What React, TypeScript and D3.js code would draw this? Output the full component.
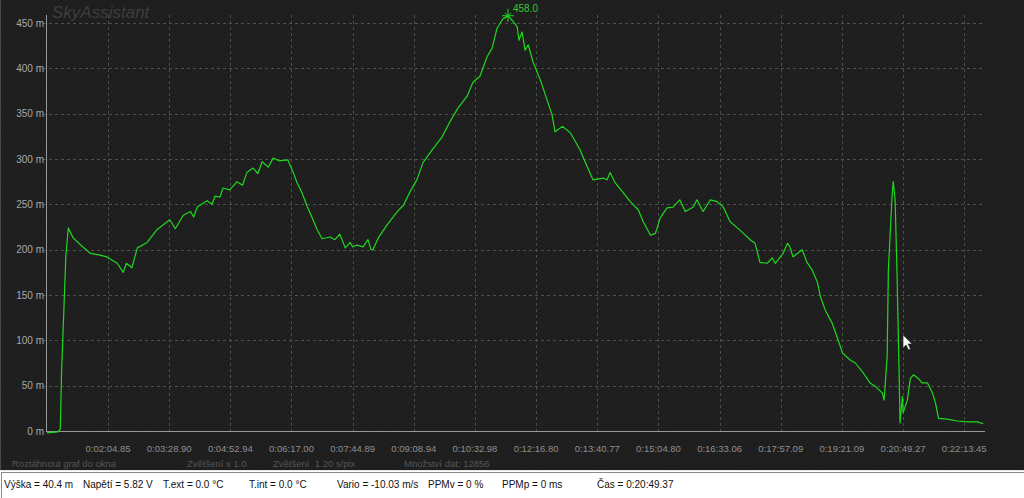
import * as d3 from "d3";

// x is measured in tick steps along the recording (tick k sits at x = k)
const tickLabels = [
  "0:02:04.85", "0:03:28.90", "0:04:52.94", "0:06:17.00", "0:07:44.89",
  "0:09:08.94", "0:10:32.98", "0:12:16.80", "0:13:40.77", "0:15:04.80",
  "0:16:33.06", "0:17:57.09", "0:19:21.09", "0:20:49.27", "0:22:13.45",
];
const altTicks = [0, 50, 100, 150, 200, 250, 300, 350, 400, 450];

const flightX = [
  0.0, 0.18, 0.22, 0.24, 0.28, 0.31, 0.35, 0.43, 0.59, 0.71, 0.87, 0.98, 1.15, 1.25, 1.3, 1.39,
  1.48, 1.64, 1.8, 2.01, 2.1, 2.23, 2.35, 2.4, 2.46, 2.62, 2.7, 2.75, 2.83, 2.88, 2.99, 3.11, 3.2,
  3.27, 3.37, 3.45, 3.52, 3.62, 3.7, 3.8, 3.94, 4.03, 4.09, 4.17, 4.26, 4.34, 4.42, 4.5, 4.63,
  4.71, 4.79, 4.88, 4.96, 5.0, 5.07, 5.17, 5.25, 5.3, 5.33, 5.42,
  5.56, 5.73, 5.83, 5.94, 6.05, 6.15, 6.3, 6.46, 6.59, 6.73, 6.87, 6.97, 7.08, 7.2, 7.28, 7.36,
  7.46, 7.54, 7.62, 7.69, 7.72, 7.77, 7.82, 7.87, 7.95, 8.07, 8.18, 8.26, 8.31, 8.43, 8.56, 8.72,
  8.8, 8.93, 9.1, 9.16, 9.21, 9.29, 9.41, 9.54, 9.67, 9.75, 9.87, 9.95, 10.03, 10.14, 10.24, 10.35,
  10.44, 10.57, 10.63, 10.73, 10.85, 10.96, 11.06, 11.17, 11.29, 11.39, 11.5, 11.58, 11.66, 11.78,
  11.86, 11.91, 12.04, 12.11, 12.15, 12.2, 12.35, 12.43, 12.51, 12.6, 12.65, 12.73, 12.84, 12.92,
  13.01, 13.14, 13.22, 13.35, 13.46, 13.55, 13.66, 13.69, 13.74, 13.76, 13.82, 13.84, 13.87, 13.9,
  13.94, 13.95, 13.99, 14.0, 14.07, 14.12, 14.17, 14.25, 14.31, 14.4, 14.48, 14.53, 14.58, 14.72,
  14.89, 15.05, 15.22, 15.31,
];
const flightAlt = [
  -2, -1, 2, 64, 137, 192, 224, 213, 203, 196, 194, 192, 185, 175, 185, 180,
  202, 208, 222, 233, 223, 238, 242, 236, 247, 254, 250, 259, 258, 268, 266, 275, 271,
  285, 290, 284, 297, 291, 301, 298, 299, 285, 274, 263, 247, 235, 222, 212, 214,
  211, 217, 202, 208, 203, 205, 203, 211, 200, 200, 213,
  227, 242, 249, 264, 277, 296, 310, 324, 341, 357, 369, 385, 391, 413, 422, 444,
  455, 458, 452, 446, 431, 440, 420, 426, 407, 387, 365, 349, 330, 336, 329, 310,
  297, 277, 279, 277, 285, 274, 264, 253, 244, 231, 216, 218, 235, 246, 247, 255,
  242, 247, 255, 242, 255, 253, 247, 231, 224, 218, 211, 207, 186, 185,
  191, 185, 196, 207, 203, 192, 200, 186, 178, 164, 148, 133, 119, 104,
  86, 78, 75, 64, 53, 49, 42, 34, 82, 178, 258, 275, 255, 178,
  49, 9, 38, 20, 34, 58, 62, 58, 53, 53, 42, 31, 14, 13,
  11, 10, 10, 8,
];

const statusItems = [
  "Výška = 40.4 m", "Napětí = 5.82 V", "T.ext = 0.0 °C", "T.int = 0.0 °C",
  "Vario = -10.03 m/s", "PPMv = 0 %", "PPMp = 0 ms", "Čas = 0:20:49.37",
];
const statusX = [4, 83, 163, 249, 337, 428, 502, 597];

const infoItems = ["Roztáhnout graf do okna", "Zvětšení x 1.0", "Zvětšení  1.20 s/pix", "Množství dat: 12856"];
const infoX = [12, 187, 273, 404];

const W = 1024;
const H = 498;
const GREEN = "#1fd81f";

export default function App() {
  const x = d3.scaleLinear().domain([0, 15.34]).range([46.86, 985]);
  const y = d3.scaleLinear().domain([0, 450]).range([431, 23]);

  const pts = flightX.map((v, i) => [v, flightAlt[i]] as [number, number]);
  const line = d3
    .line<[number, number]>()
    .x((d) => x(d[0]))
    .y((d) => y(d[1]));

  const peakIdx = d3.maxIndex(flightAlt);
  const px = x(flightX[peakIdx]);
  const py = y(flightAlt[peakIdx]);

  const cx = x(14.0);
  const cy = y(106);

  const font = "'Liberation Sans', Arial, sans-serif";

  return (
    <svg
      width={W}
      height={H}
      style={{ position: "absolute", left: 0, top: 0, display: "block" }}
      fontFamily={font}
    >
      <defs>
        <pattern id="hatch" width="3" height="3" patternUnits="userSpaceOnUse" patternTransform="rotate(45)">
          <rect width="3" height="3" fill="#1d1d1d" />
          <line x1="0" y1="0" x2="0" y2="3" stroke="#262626" strokeWidth="1" />
        </pattern>
      </defs>

      <rect x={0} y={0} width={W} height={470} fill="url(#hatch)" />
      <line x1={0.5} x2={0.5} y1={0} y2={470} stroke="#4a4a4a" />

      <text x={52} y={18} fontSize={17} fontStyle="italic" fill="#3e3e3e">
        SkyAssistant
      </text>

      {/* grid */}
      {altTicks.slice(1).map((t) => (
        <line
          key={"h" + t}
          x1={43}
          x2={985}
          y1={Math.round(y(t)) + 0.5}
          y2={Math.round(y(t)) + 0.5}
          stroke="#4b524b"
          strokeDasharray="3,3"
        />
      ))}
      {tickLabels.map((_, i) => (
        <line
          key={"v" + i}
          x1={Math.round(x(i + 1)) + 0.5}
          x2={Math.round(x(i + 1)) + 0.5}
          y1={15}
          y2={435}
          stroke="#435243"
          strokeDasharray="3,3"
        />
      ))}

      {/* axes */}
      <line x1={46.5} x2={46.5} y1={15} y2={432} stroke="#9a9a9a" />
      <line x1={46} x2={985} y1={431.5} y2={431.5} stroke="#9a9a9a" />

      {altTicks.map((t) => (
        <text key={"yl" + t} x={44} y={y(t) + 3.5} fontSize={10} fill="#a8a8a8" textAnchor="end">
          {t} m
        </text>
      ))}
      {tickLabels.map((l, i) => (
        <text key={"xl" + i} x={x(i + 1)} y={452} fontSize={9.5} fill="#8e8e8e" textAnchor="middle">
          {l}
        </text>
      ))}

      {infoItems.map((s, i) => (
        <text key={"in" + i} x={infoX[i]} y={467} fontSize={9.5} fill="#555555" xmlSpace="preserve">
          {s}
        </text>
      ))}

      {/* altitude trace */}
      <path d={line(pts) ?? ""} fill="none" stroke={GREEN} strokeWidth={1.2} strokeLinejoin="round" />

      {/* peak marker */}
      <g stroke={GREEN} strokeWidth={1}>
        <line x1={px - 6} x2={px + 6} y1={py} y2={py} />
        <line x1={px} x2={px} y1={py - 7} y2={py + 6} />
        <line x1={px - 3} x2={px + 3} y1={py - 3} y2={py + 3} />
        <line x1={px - 3} x2={px + 3} y1={py + 3} y2={py - 3} />
      </g>
      <text x={px + 5} y={py - 4} fontSize={10} fill="#2ecb2e">
        {flightAlt[peakIdx].toFixed(1)}
      </text>

      {/* mouse pointer */}
      <path
        d={`M${cx},${cy} l0,13 l3,-3 l2.5,5 l2,-1 l-2.5,-5 l4,0 z`}
        fill="#ffffff"
        stroke="#222"
        strokeWidth={0.6}
      />

      {/* status bar */}
      <rect x={0} y={470} width={W} height={28} fill="#ffffff" />
      <line x1={0} x2={W} y1={470.5} y2={470.5} stroke="#e6e6e6" />
      <line x1={1} x2={W} y1={472.5} y2={472.5} stroke="#8a8a8a" />
      <line x1={1.5} x2={1.5} y1={472} y2={H} stroke="#8a8a8a" />
      {statusItems.map((s, i) => (
        <text key={"st" + i} x={statusX[i]} y={488} fontSize={10} fill="#111">
          {s}
        </text>
      ))}
    </svg>
  );
}
